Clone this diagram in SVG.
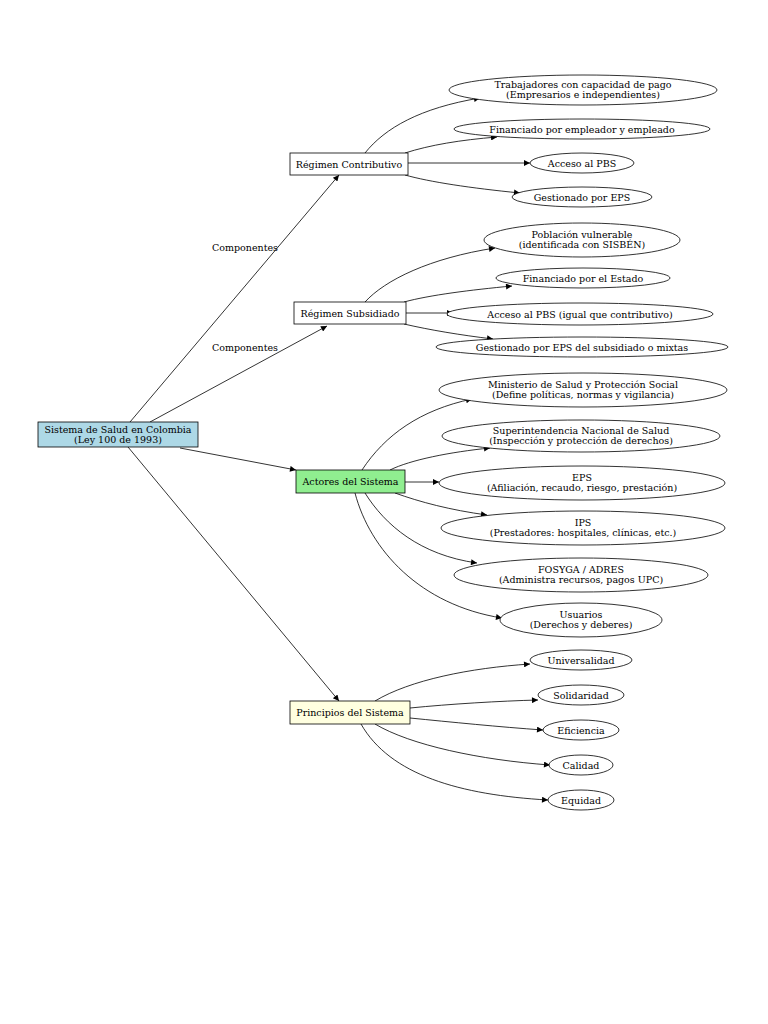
<svg xmlns="http://www.w3.org/2000/svg" width="768" height="1024" viewBox="0 0 768 1024">
<style>
text{font-family:"DejaVu Serif","Liberation Serif",serif;font-size:9.5px;fill:#000;text-anchor:middle;dominant-baseline:central}
.box{stroke:#000;stroke-width:0.8}
.ell{fill:#fff;stroke:#000;stroke-width:0.8}
.e{fill:none;stroke:#000;stroke-width:0.8;marker-end:url(#a)}
</style>
<defs>
<marker id="a" viewBox="0 0 10 10" refX="10" refY="5" markerWidth="9" markerHeight="6" markerUnits="userSpaceOnUse" orient="auto"><path d="M0,0 L10,5 L0,10z" fill="#000"/></marker>
</defs>
<rect width="768" height="1024" fill="#fff"/>
<g id="edges">
<path class="e" d="M130,422 L339,175"/>
<path class="e" d="M150,422 L327,326"/>
<path class="e" d="M180,448 L296,470"/>
<path class="e" d="M128,447 L339,701"/>
<path class="e" d="M365,153 C385,128 420,108 480,98"/>
<path class="e" d="M405,153 C430,145 460,140 497,137"/>
<path class="e" d="M408,163 L530,163"/>
<path class="e" d="M405,175 C430,182 470,188 520,193"/>
<path class="e" d="M365,302 C385,280 430,258 495,248"/>
<path class="e" d="M404,302 C430,295 470,290 512,286"/>
<path class="e" d="M406,313 L453,313"/>
<path class="e" d="M404,324 C430,330 460,335 493,339"/>
<path class="e" d="M362,470 C385,435 420,410 472,399"/>
<path class="e" d="M390,470 C410,460 450,452 490,448"/>
<path class="e" d="M405,482 L439,482"/>
<path class="e" d="M395,493 C420,502 450,510 487,515"/>
<path class="e" d="M365,493 C385,525 420,555 477,563"/>
<path class="e" d="M355,493 C370,550 420,605 502,618"/>
<path class="e" d="M375,701 C410,680 470,668 530,664"/>
<path class="e" d="M410,708 C450,704 500,701 538,700"/>
<path class="e" d="M410,718 C450,722 500,727 543,730"/>
<path class="e" d="M375,724 C410,745 480,760 550,765"/>
<path class="e" d="M361,724 C390,775 460,795 548,800"/>
<text x="245" y="247">Componentes</text>
<text x="245" y="347">Componentes</text>
</g>
<g id="root"><rect class="box" x="38" y="422" width="160" height="25" fill="#ADD8E6"/><text x="118" y="429.5">Sistema de Salud en Colombia</text><text x="118" y="439.5">(Ley 100 de 1993)</text></g>
<g id="contributivo"><rect class="box" x="290" y="153" width="118" height="22" fill="#fff"/><text x="349" y="164">Régimen Contributivo</text></g>
<g id="subsidiado"><rect class="box" x="294" y="302" width="112" height="22" fill="#fff"/><text x="350" y="313">Régimen Subsidiado</text></g>
<g id="actores"><rect class="box" x="296" y="470" width="109" height="23" fill="#90EE90"/><text x="350.5" y="481.5">Actores del Sistema</text></g>
<g id="principios"><rect class="box" x="290" y="701" width="120" height="23" fill="#FFFFE0"/><text x="350" y="712.5">Principios del Sistema</text></g>
<g id="c1"><ellipse class="ell" cx="583" cy="90" rx="134" ry="15"/><text x="583" y="84">Trabajadores con capacidad de pago</text><text x="583" y="94">(Empresarios e independientes)</text></g>
<g id="c2"><ellipse class="ell" cx="582" cy="129" rx="128" ry="10"/><text x="582" y="129">Financiado por empleador y empleado</text></g>
<g id="c3"><ellipse class="ell" cx="582" cy="163" rx="52" ry="10"/><text x="582" y="163">Acceso al PBS</text></g>
<g id="c4"><ellipse class="ell" cx="582" cy="197" rx="70" ry="10"/><text x="582" y="197">Gestionado por EPS</text></g>
<g id="s1"><ellipse class="ell" cx="582" cy="240" rx="98" ry="17"/><text x="582" y="234">Población vulnerable</text><text x="582" y="244">(identificada con SISBÉN)</text></g>
<g id="s2"><ellipse class="ell" cx="583" cy="278" rx="87" ry="10"/><text x="583" y="278">Financiado por el Estado</text></g>
<g id="s3"><ellipse class="ell" cx="580" cy="314" rx="133" ry="11"/><text x="580" y="314">Acceso al PBS (igual que contributivo)</text></g>
<g id="s4"><ellipse class="ell" cx="582" cy="347" rx="146" ry="10"/><text x="582" y="347">Gestionado por EPS del subsidiado o mixtas</text></g>
<g id="a1"><ellipse class="ell" cx="583" cy="390" rx="144" ry="17"/><text x="583" y="384">Ministerio de Salud y Protección Social</text><text x="583" y="394">(Define políticas, normas y vigilancia)</text></g>
<g id="a2"><ellipse class="ell" cx="581" cy="436" rx="139" ry="16"/><text x="581" y="430">Superintendencia Nacional de Salud</text><text x="581" y="440">(Inspección y protección de derechos)</text></g>
<g id="a3"><ellipse class="ell" cx="582" cy="483" rx="143" ry="17"/><text x="582" y="477">EPS</text><text x="582" y="487">(Afiliación, recaudo, riesgo, prestación)</text></g>
<g id="a4"><ellipse class="ell" cx="583" cy="528" rx="142" ry="17"/><text x="583" y="522">IPS</text><text x="583" y="532">(Prestadores: hospitales, clínicas, etc.)</text></g>
<g id="a5"><ellipse class="ell" cx="581" cy="575" rx="127" ry="17"/><text x="581" y="569">FOSYGA / ADRES</text><text x="581" y="579">(Administra recursos, pagos UPC)</text></g>
<g id="a6"><ellipse class="ell" cx="581" cy="620" rx="81" ry="17"/><text x="581" y="614">Usuarios</text><text x="581" y="624">(Derechos y deberes)</text></g>
<g id="p1"><ellipse class="ell" cx="581" cy="660" rx="51" ry="10"/><text x="581" y="660">Universalidad</text></g>
<g id="p2"><ellipse class="ell" cx="581" cy="695" rx="43" ry="10"/><text x="581" y="695">Solidaridad</text></g>
<g id="p3"><ellipse class="ell" cx="581" cy="730" rx="38" ry="10"/><text x="581" y="730">Eficiencia</text></g>
<g id="p4"><ellipse class="ell" cx="581" cy="765" rx="32" ry="10"/><text x="581" y="765">Calidad</text></g>
<g id="p5"><ellipse class="ell" cx="581" cy="800" rx="33" ry="10"/><text x="581" y="800">Equidad</text></g>
</svg>
